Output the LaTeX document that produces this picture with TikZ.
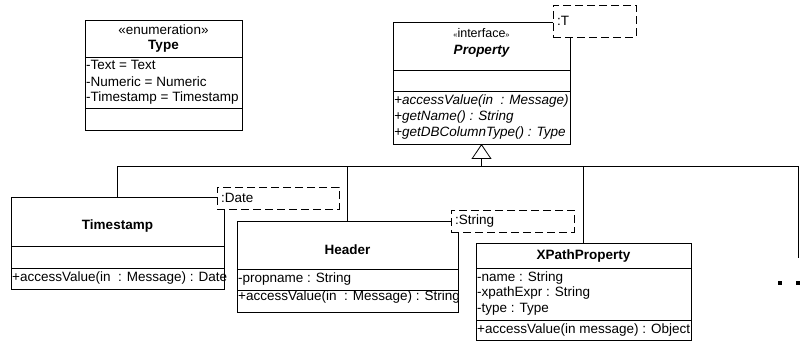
\documentclass[tikz,border=0pt]{standalone}
\usepackage{fontspec}
\setmainfont{Liberation Sans}
\usetikzlibrary{arrows.meta}
\begin{document}
\begin{tikzpicture}[x=1pt,y=-1pt,
  box/.style={draw, line width=0.8pt, inner sep=0pt, outer sep=0pt, anchor=north west, fill=white},
  tpl/.style={draw, dash pattern=on 8pt off 4pt, line width=0.8pt, fill=white, inner sep=0pt, outer sep=0pt, anchor=north west},
  txt/.style={anchor=west, inner sep=0pt, font=\fontsize{13.5}{15}\selectfont},
  itx/.style={anchor=west, inner sep=0pt, font=\fontsize{13.5}{15}\selectfont\itshape},
  ctr/.style={inner sep=0pt, font=\fontsize{13.5}{15}\selectfont},
  bname/.style={inner sep=0pt, font=\fontsize{13.5}{15}\selectfont\bfseries},
  sep/.style={line width=0.8pt},
  conn/.style={line width=0.8pt}]
\useasboundingbox (0,0) rectangle (812,342);

% Type enumeration
\node[box, minimum width=157pt, minimum height=110pt] (type) at (85,20) {};
\draw[sep] (85,57) -- (242,57);
\draw[sep] (85,108) -- (242,108);
\node[ctr] (typest) at (163.5,30) {«enumeration»};
\node[bname] (typename) at (163.5,46) {Type};
\node[txt] (ta1) at (86,65) {-Text = Text};
\node[txt] (ta2) at (86,81.5) {-Numeric = Numeric};
\node[txt] (ta3) at (86,98) {-Timestamp = Timestamp};

% Property interface
\node[box, minimum width=177pt, minimum height=122pt] (prop) at (393,22) {};
\draw[sep] (393,70) -- (570,70);
\draw[sep] (393,91) -- (570,91);
\node[ctr] (propst) at (481.5,33) {\fontsize{7.5}{8}\selectfont<<\fontsize{12.5}{14}\selectfont interface\fontsize{7.5}{8}\selectfont>>};
\node[bname, font=\fontsize{13.5}{15}\selectfont\bfseries\itshape] (propname) at (481.5,51) {Property};
\node[itx] (pm1) at (394,101) {+accessValue(in\ \ : Message)};
\node[itx] (pm2) at (394,117) {+getName() : String};
\node[itx] (pm3) at (394,133) {+getDBColumnType() : Type};
\node[tpl, minimum width=83pt, minimum height=32pt] (propT) at (553,5) {};
\node[txt] (propTt) at (557,21) {:T};

% Timestamp
\node[box, minimum width=213pt, minimum height=92pt] (ts) at (11,197) {};
\draw[sep] (11,246) -- (224,246);
\draw[sep] (11,268) -- (224,268);
\node[bname] (tsname) at (117.5,226) {Timestamp};
\node[txt] (tsm) at (12,278) {+accessValue(in\ \ : Message) : Date};
\node[tpl, minimum width=122pt, minimum height=22pt] (tsT) at (217,187) {};
\node[txt] (tsTt) at (221,198) {:Date};

% Header
\node[box, minimum width=221pt, minimum height=91pt] (hd) at (237,221) {};
\draw[sep] (237,269) -- (458,269);
\draw[sep] (237,290) -- (458,290);
\node[bname] (hdname) at (347.5,250) {Header};
\node[txt] (hda) at (238,279.5) {-propname : String};
\node[txt] (hdm) at (238,297) {+accessValue(in\ \ : Message) : String};
\node[tpl, minimum width=123pt, minimum height=22pt] (hdT) at (451,210) {};
\node[txt] (hdTt) at (455,221) {:String};

% XPathProperty
\node[box, minimum width=215pt, minimum height=97pt] (xp) at (476,243) {};
\draw[sep] (476,268) -- (691,268);
\draw[sep] (476,320) -- (691,320);
\node[bname] (xpname) at (583.5,256) {XPathProperty};
\node[txt] (xpa1) at (477,278) {-name : String};
\node[txt] (xpa2) at (477,293.5) {-xpathExpr : String};
\node[txt] (xpa3) at (477,309.5) {-type : Type};
\node[txt] (xpm) at (477,330) {+accessValue(in message) : Object};

% Generalization tree
\coordinate (bus) at (481.5,166);
\coordinate (busend) at (798,166);
\coordinate (freeend) at (798,258);
\draw[conn, -{Triangle[open, length=15pt, width=20pt, line width=0.8pt]}] (bus) -- (prop.south);
\draw[conn] (ts.north) |- (busend) -- (freeend);
\draw[conn] (hd.north) -- (hd.north |- bus);
\draw[conn] (xp.north) -- (xp.north |- bus);

% ellipsis dots
\fill (778,281) rectangle (782,285);
\fill (796,281) rectangle (800,285);
\end{tikzpicture}
\end{document}
